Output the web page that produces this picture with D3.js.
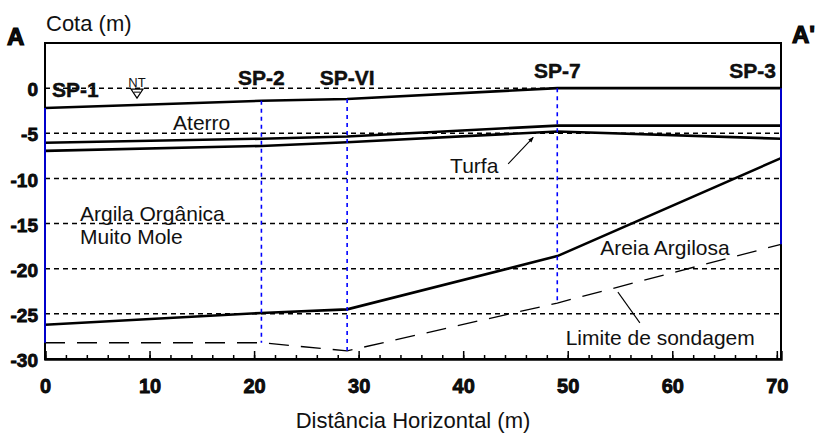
<!DOCTYPE html>
<html>
<head>
  <meta charset="utf-8">
  <script src="https://cdn.jsdelivr.net/npm/d3@7"></script>
  <style>
    body { margin: 0; background: white; }
    svg { display: block; }
    text { font-family: "Liberation Sans", Arial, sans-serif; fill: #111; }
    .bold { font-weight: bold; }
  </style>
</head>
<body>
  <script>
    // boreholes along the section
    const boreholes = ['SP-1', 'SP-2', 'SP-VI', 'SP-7', 'SP-3']
    const boreX = [0, 20.7, 28.9, 49, 70.4]

    // layer boundaries (cota, m) at each borehole
    const surface = [-2.2, -1.4, -1.2, 0, 0]
    const aterroBase = [-6.05, -5.6, -5.35, -4.15, -4.15]
    const turfaBase = [-6.95, -6.4, -6.0, -4.8, -5.6]
    const argilaBase = [-26.2, -24.9, -24.5, -18.6, -7.75]
    const limite = [-28.2, -28.2, -29.1, -23.8, -17.3]

    const xTicks = [0, 10, 20, 30, 40, 50, 60, 70]
    const yTicks = [0, -5, -10, -15, -20, -25, -30]

    const W = 818, H = 433
    const svg = d3.select('body').append('svg').attr('width', W).attr('height', H)

    const x = d3.scaleLinear().domain([0, 70.4]).range([45, 781])
    const y = d3.scaleLinear().domain([-30, 5]).range([359, 43])

    const pts = vals => vals.map((v, i) => [boreX[i], v])
    const line = d3.line().x(d => x(d[0])).y(d => y(d[1]))

    // horizontal dashed grid
    svg.append('g').selectAll('line')
      .data(yTicks.filter(d => d > -30))
      .join('line')
      .attr('x1', x(0)).attr('x2', x(70.4))
      .attr('y1', d => y(d)).attr('y2', d => y(d))
      .attr('stroke', '#000').attr('stroke-width', 1.5)
      .attr('stroke-dasharray', '5,4')

    // frame
    svg.append('rect')
      .attr('x', x(0)).attr('y', y(5))
      .attr('width', x(70.4) - x(0)).attr('height', y(-30) - y(5))
      .attr('fill', 'none').attr('stroke', '#000').attr('stroke-width', 2)

    // x axis ticks pointing into the plot
    const xAxisMinor = d3.axisBottom(x).tickValues(d3.range(0, 71, 2)).tickSize(-4).tickFormat('')
    const xAxis = d3.axisBottom(x).tickValues(xTicks).tickSize(-8).tickPadding(20)
    svg.append('g').attr('transform', `translate(0,${y(-30)})`).call(xAxisMinor)
      .call(g => g.select('.domain').remove())
      .call(g => g.selectAll('line').attr('stroke-width', 1.5))
    svg.append('g').attr('transform', `translate(0,${y(-30)})`).call(xAxis)
      .call(g => g.select('.domain').attr('stroke-width', 2.4))
      .call(g => g.selectAll('line').attr('stroke-width', 1.5))
      .call(g => g.selectAll('text')
        .attr('class', 'bold').attr('font-size', 20)
        .attr('stroke', '#000').attr('stroke-width', 0.8)
        .style('font-family', '"Liberation Sans", Arial, sans-serif'))

    // y axis labels
    const yAxis = d3.axisLeft(y).tickValues(yTicks).tickSize(0).tickPadding(7).tickFormat(d => String(d))
    svg.append('g').attr('transform', `translate(${x(0)},0)`).call(yAxis)
      .call(g => g.select('.domain').remove())
      .call(g => g.selectAll('text')
        .attr('class', 'bold').attr('font-size', 19).attr('dy', '0.4em')
        .attr('stroke', '#000').attr('stroke-width', 0.8)
        .style('font-family', '"Liberation Sans", Arial, sans-serif'))

    // layer boundaries
    const layers = [surface, aterroBase, turfaBase, argilaBase]
    svg.append('g').selectAll('path')
      .data(layers)
      .join('path')
      .attr('d', d => line(pts(d)))
      .attr('fill', 'none').attr('stroke', '#000').attr('stroke-width', 2.6)

    // limite de sondagem
    svg.append('path')
      .attr('d', line(pts(limite)))
      .attr('fill', 'none').attr('stroke', '#000').attr('stroke-width', 1.3)
      .attr('stroke-dasharray', '20,12')

    // boreholes
    svg.append('g').selectAll('line')
      .data(boreX)
      .join('line')
      .attr('x1', d => x(d)).attr('x2', d => x(d))
      .attr('y1', (d, i) => y(surface[i])).attr('y2', (d, i) => y(limite[i]))
      .attr('stroke', '#0000ff').attr('stroke-width', 1.6)
      .attr('stroke-dasharray', (d, i) => (i === 0 || i === boreX.length - 1) ? null : '4,4')

    // borehole names
    const nameY = [-1.0, 0.35, 0.35, 1.1, 1.1]
    svg.append('g').selectAll('text')
      .data(boreholes)
      .join('text')
      .attr('class', 'bold').attr('font-size', 21)
      .attr('x', (d, i) => i === 0 ? x(boreX[i]) + 7 : i === boreX.length - 1 ? x(boreX[i]) - 5 : x(boreX[i]))
      .attr('y', (d, i) => y(nameY[i]))
      .attr('text-anchor', (d, i) => i === 0 ? 'start' : i === boreX.length - 1 ? 'end' : 'middle')
      .attr('stroke', '#000').attr('stroke-width', 0.4)
      .text(d => d)

    // water table marker
    const ntX = 8.8
    svg.append('text').attr('x', x(ntX)).attr('y', y(0) - 1)
      .attr('text-anchor', 'middle').attr('font-size', 13).text('NT')
    svg.append('path')
      .attr('d', `M${x(ntX) - 6},${y(0) + 1}L${x(ntX) + 6},${y(0) + 1}L${x(ntX)},${y(0) + 10}Z`)
      .attr('fill', 'white').attr('stroke', '#000').attr('stroke-width', 1.2)
    svg.append('line')
      .attr('x1', x(ntX) - 3).attr('x2', x(ntX) + 3)
      .attr('y1', y(0) + 4).attr('y2', y(0) + 4)
      .attr('stroke', '#000').attr('stroke-width', 1)

    // layer names (data coordinates)
    const labels = [
      { t: 'Aterro', x: 12.25, y: -4.65 },
      { t: 'Turfa', x: 38.75, y: -9.4 },
      { t: 'Argila Orgânica', x: 3.35, y: -14.75 },
      { t: 'Muito Mole', x: 3.35, y: -17.3 },
      { t: 'Areia Argilosa', x: 53.1, y: -18.5 },
      { t: 'Limite de sondagem', x: 49.8, y: -28.4 }
    ]
    svg.append('g').selectAll('text')
      .data(labels)
      .join('text')
      .attr('x', d => x(d.x)).attr('y', d => y(d.y))
      .attr('font-size', 21)
      .text(d => d.t)

    // leader lines
    svg.append('defs').append('marker')
      .attr('id', 'arr').attr('viewBox', '0 0 10 10').attr('refX', 9).attr('refY', 5)
      .attr('markerWidth', 5).attr('markerHeight', 5).attr('orient', 'auto')
      .append('path').attr('d', 'M0,1L10,5L0,9Z').attr('fill', '#000')
    const leaders = [
      { from: [44.3, -8.4], to: [46.7, -5.45], arrow: true },
      { from: [56.9, -26.0], to: [54.8, -22.6], arrow: false }
    ]
    svg.append('g').selectAll('line')
      .data(leaders)
      .join('line')
      .attr('x1', d => x(d.from[0])).attr('y1', d => y(d.from[1]))
      .attr('x2', d => x(d.to[0])).attr('y2', d => y(d.to[1]))
      .attr('stroke', '#000').attr('stroke-width', 1.1)
      .attr('marker-end', d => d.arrow ? 'url(#arr)' : null)

    // titles
    svg.append('text').attr('x', 46).attr('y', 31).attr('font-size', 22).text('Cota (m)')
    svg.append('text').attr('x', x(35.2)).attr('y', 428).attr('text-anchor', 'middle')
      .attr('font-size', 22).text('Distância Horizontal (m)')
    svg.append('text').attr('x', 7).attr('y', 45).attr('class', 'bold')
      .attr('font-size', 24).attr('stroke', '#000').attr('stroke-width', 1.2).text('A')
    svg.append('text').attr('x', 792).attr('y', 43).attr('class', 'bold')
      .attr('font-size', 24).attr('stroke', '#000').attr('stroke-width', 1.2).text("A'")
  </script>
</body>
</html>
